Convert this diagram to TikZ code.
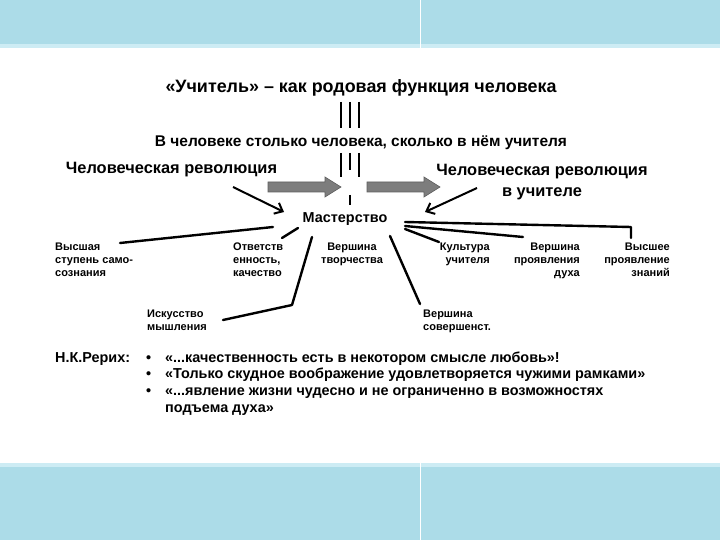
\documentclass[tikz,border=0pt]{standalone}
\usepackage{fontspec}
\setmainfont{Liberation Sans}
\usetikzlibrary{arrows.meta}
\definecolor{water}{RGB}{172,220,232}
\definecolor{waterlt}{RGB}{205,236,244}
\definecolor{arrowgray}{RGB}{125,125,125}
\definecolor{arrowedge}{RGB}{95,95,95}
\begin{document}
\begin{tikzpicture}[x=1pt,y=-1pt,
  titletext/.style={font=\bfseries\fontsize{17.9}{20}\selectfont, inner sep=0pt},
  subtext/.style={font=\bfseries\fontsize{15.5}{18}\selectfont, inner sep=0pt},
  revtext/.style={font=\bfseries\fontsize{16.4}{21}\selectfont, inner sep=0pt, align=center},
  lbl/.style={font=\bfseries\fontsize{11}{13}\selectfont, inner sep=0pt},
  quote/.style={font=\bfseries\fontsize{14.4}{16.7}\selectfont, inner sep=0pt, anchor=base west},
  bar/.style={line width=2.2pt},
  conn/.style={line width=2.4pt, line cap=round},
  blk/.style={line width=2pt, -{Straight Barb[length=7pt,width=12pt]}},
  garrow/.style={fill=arrowgray, draw=arrowedge, line width=0.6pt}
]
\useasboundingbox (0,0) rectangle (720,540);
\fill[white] (0,0) rectangle (720,540);
% water bands
\fill[water] (0,0) rectangle (720,48);
\fill[water] (0,463) rectangle (720,540);
\fill[waterlt] (0,44) rectangle (720,48);
\fill[waterlt] (0,463) rectangle (720,467);
\draw[white, line width=0.6pt] (420,0) -- (420,48);
\draw[white, line width=0.6pt] (420,463) -- (420,540);

% title lines
\node[titletext] (title) at (361,88) {«Учитель» – как родовая функция человека};
\draw[bar] (341,102) -- (341,128);
\draw[bar] (350,102) -- (350,128);
\draw[bar] (359,102) -- (359,128);
\node[subtext] (sub) at (361,143) {В человеке столько человека, сколько в нём учителя};
\draw[bar] (341,153) -- (341,177);
\draw[bar] (350,153) -- (350,170);
\draw[bar] (359,153) -- (359,177);
\draw[bar] (350,195) -- (350,205);

% revolution labels
\node[revtext] (revL) at (171.5,170) {Человеческая революция};
\node[revtext, anchor=north] (revR) at (542,164) {Человеческая революция\\в учителе};

% gray arrows
\fill[garrow] (268,182) -- (325,182) -- (325,177) -- (341,187) -- (325,197) -- (325,192) -- (268,192) -- cycle;
\fill[garrow] (367,182) -- (424,182) -- (424,177) -- (440,187) -- (424,197) -- (424,192) -- (367,192) -- cycle;

% centre
\node[font=\bfseries\fontsize{14.4}{16}\selectfont, inner sep=0pt] (m) at (345,219) {Мастерство};

\coordinate (aLs) at (233,187);
\coordinate (aLe) at (284,212);
\coordinate (aRs) at (477,188);
\coordinate (aRe) at (425,212);
\draw[blk] (aLs) -- (aLe);
\draw[blk] (aRs) -- (aRe);

% labels
\node[lbl, anchor=north west, align=left] (l1) at (55,243) {Высшая\\ступень само-\\сознания};
\node[lbl, anchor=north west, align=left] (l2) at (233,243) {Ответств\\енность,\\качество};
\node[lbl, anchor=north, align=center] (l3) at (352,243) {Вершина\\творчества};
\node[lbl, anchor=north west, align=left] (l4) at (147,310) {Искусство\\мышления};
\node[lbl, anchor=north west, align=left] (l5) at (423,310) {Вершина\\совершенст.};
\node[lbl, anchor=north east, align=right] (l6) at (490,243) {Культура\\учителя};
\node[lbl, anchor=north east, align=right] (l7) at (580,243) {Вершина\\проявления\\духа};
\node[lbl, anchor=north east, align=right] (l8) at (670,243) {Высшее\\проявление\\знаний};

% connectors from Мастерство
\coordinate (c1a) at (273,227);
\coordinate (c1b) at (120,243);
\draw[conn] (c1a) -- (c1b);
\coordinate (c2a) at (298,228);
\coordinate (c2b) at (282,238);
\draw[conn] (c2a) -- (c2b);
\coordinate (c3a) at (312,237);
\coordinate (c3b) at (292,305);
\coordinate (c3c) at (223,320);
\draw[conn, line join=round] (c3a) -- (c3b) -- (c3c);
\coordinate (c4a) at (390,236);
\coordinate (c4b) at (420,304);
\draw[conn] (c4a) -- (c4b);
\coordinate (c5a) at (405,222);
\coordinate (c5b) at (631,227);
\coordinate (c5c) at (631,238);
\draw[conn, line join=round] (c5a) -- (c5b) -- (c5c);
\coordinate (c6a) at (405,226);
\coordinate (c6b) at (523,237);
\draw[conn] (c6a) -- (c6b);
\coordinate (c7a) at (405,229);
\coordinate (c7b) at (439,242);
\draw[conn] (c7a) -- (c7b);

% quotes
\node[quote] (who) at (55,362) {Н.К.Рерих:};
\node[quote] (b1) at (146,362) {•};
\node[quote] (b2) at (146,378.7) {•};
\node[quote] (b3) at (146,395.4) {•};
\node[quote] (q1) at (165,362) {«...качественность есть в некотором смысле любовь»!};
\node[quote] (q2) at (165,378.7) {«Только скудное воображение удовлетворяется чужими рамками»};
\node[quote] (q3) at (165,395.4) {«...явление жизни чудесно и не ограниченно в возможностях};
\node[quote] (q4) at (165,412.1) {подъема духа»};
\end{tikzpicture}
\end{document}
